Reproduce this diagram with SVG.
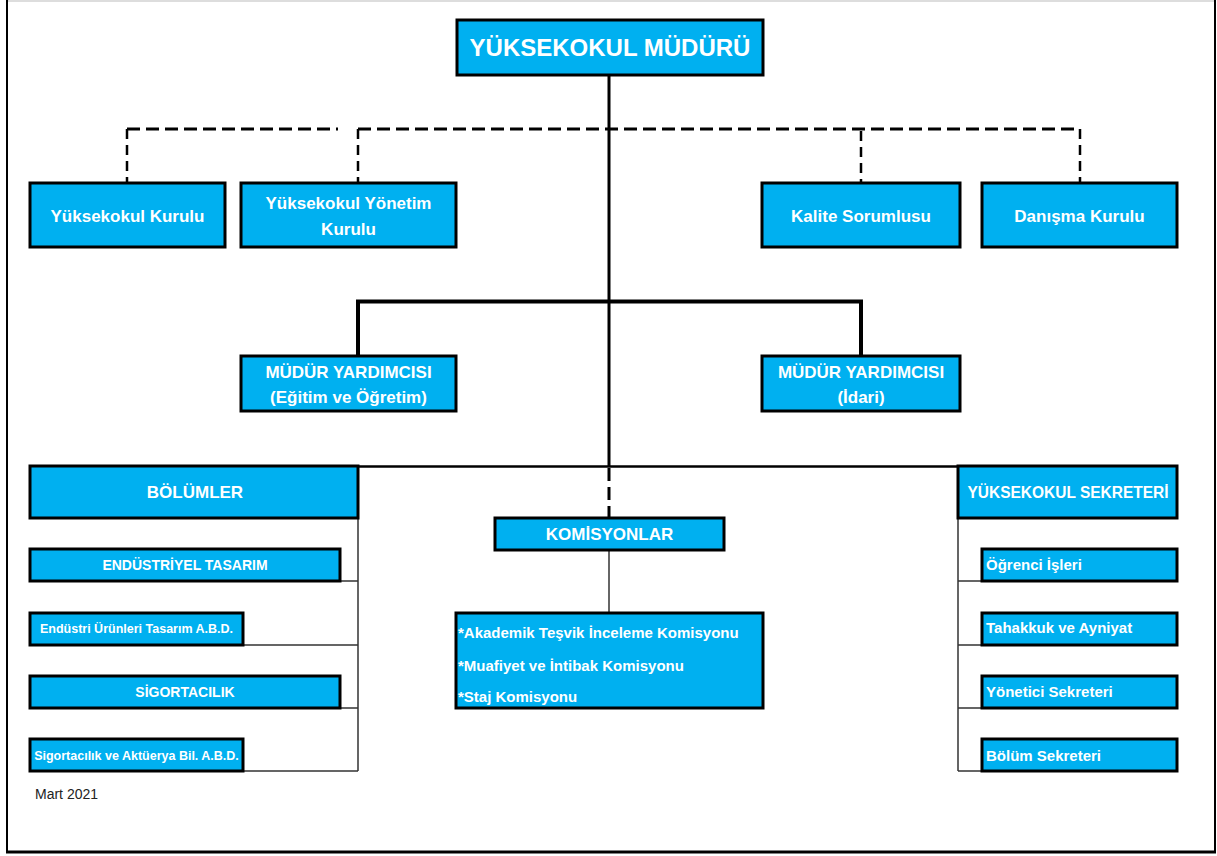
<svg xmlns="http://www.w3.org/2000/svg" width="1217" height="856" viewBox="0 0 1217 856">
<style>
.box{fill:#00B0F0;stroke:#000;stroke-width:3}
.t{font-family:"Liberation Sans",Arial,sans-serif;font-weight:bold;fill:#fff;text-anchor:middle}
.tl{font-family:"Liberation Sans",Arial,sans-serif;font-weight:bold;fill:#fff;text-anchor:start}
.solid{stroke:#000;fill:none}
.thin{stroke:#333;stroke-width:1.5;fill:none}
.dash{stroke:#000;fill:none;stroke-width:3;stroke-dasharray:13 6}
.vdash{stroke:#000;fill:none;stroke-width:2.5;stroke-dasharray:10 6}
</style>
<rect x="0" y="0" width="1217" height="856" fill="#fff"/>
<g id="frame">
<line x1="7" y1="1" x2="1216" y2="1" stroke="#ddd" stroke-width="2"/>
<line x1="7" y1="0" x2="7" y2="853" stroke="#000" stroke-width="2"/>
<line x1="1215" y1="0" x2="1215" y2="853" stroke="#000" stroke-width="2"/>
<line x1="6" y1="852" x2="1216" y2="852" stroke="#000" stroke-width="3"/>
</g>
<g id="connectors">
<path class="dash" d="M127,129 H338 M358,129 H1080"/>
<path class="vdash" d="M127,129 V182 M358,129 V182 M861,131 V182 M1080,129 V182"/>
<path class="solid" stroke-width="3" d="M609,75 V467"/>
<path class="dash" d="M609,468 V518"/>
<path class="solid" stroke-width="4" d="M358,356 V301.5 H861 V356"/>
<path class="solid" stroke-width="2.5" d="M358,466.5 H958"/>
<path class="thin" d="M609,550 V613"/>
<path class="thin" d="M358,518 V771 M340,581 H358 M243,645 H358 M340,708 H358 M243,771 H358"/>
<path class="thin" d="M958,518 V771 M958,581 H982 M958,645 H982 M958,708 H982 M958,771 H982"/>
</g>
<g id="mudur"><rect class="box" x="457" y="20" width="306" height="55"/><text class="t" x="610" y="56" font-size="24">YÜKSEKOKUL MÜDÜRÜ</text></g>
<g id="yk-kurulu"><rect class="box" x="30" y="183" width="195" height="64"/><text class="t" x="127.5" y="222" font-size="17">Yüksekokul Kurulu</text></g>
<g id="yk-yonetim"><rect class="box" x="241" y="183" width="215" height="64"/><text class="t" x="348.5" y="209" font-size="17">Yüksekokul Yönetim</text><text class="t" x="348.5" y="235" font-size="17">Kurulu</text></g>
<g id="kalite"><rect class="box" x="762" y="183" width="198" height="64"/><text class="t" x="861" y="222" font-size="17">Kalite Sorumlusu</text></g>
<g id="danisma"><rect class="box" x="982" y="183" width="195" height="64"/><text class="t" x="1079.5" y="222" font-size="17">Danışma Kurulu</text></g>
<g id="my-egitim"><rect class="box" x="241" y="356" width="215" height="55"/><text class="t" x="348.5" y="378" font-size="17">MÜDÜR YARDIMCISI</text><text class="t" x="348.5" y="403" font-size="17">(Eğitim ve Öğretim)</text></g>
<g id="my-idari"><rect class="box" x="762" y="356" width="198" height="55"/><text class="t" x="861" y="378" font-size="17">MÜDÜR YARDIMCISI</text><text class="t" x="861" y="403" font-size="17">(İdari)</text></g>
<g id="bolumler"><rect class="box" x="30" y="466" width="328" height="52"/><text class="t" x="195" y="498" font-size="17">BÖLÜMLER</text></g>
<g id="sekreter"><rect class="box" x="958" y="466" width="219" height="52"/><text class="t" x="1068" y="498" font-size="16" textLength="201" lengthAdjust="spacingAndGlyphs">YÜKSEKOKUL SEKRETERİ</text></g>
<g id="komisyonlar"><rect class="box" x="495" y="518" width="229" height="32"/><text class="t" x="609.5" y="540" font-size="17">KOMİSYONLAR</text></g>
<g id="komisyon-list"><rect class="box" x="456" y="613" width="307" height="95"/>
<text class="tl" x="458" y="638" font-size="15">*Akademik Teşvik İnceleme Komisyonu</text>
<text class="tl" x="458" y="671" font-size="15">*Muafiyet ve İntibak Komisyonu</text>
<text class="tl" x="458" y="702" font-size="15">*Staj Komisyonu</text></g>
<g id="endustriyel"><rect class="box" x="30" y="549" width="310" height="32"/><text class="t" x="185" y="570" font-size="14">ENDÜSTRİYEL TASARIM</text></g>
<g id="eut-abd"><rect class="box" x="30" y="613" width="213" height="32"/><text class="t" x="136.5" y="633" font-size="12.5">Endüstri Ürünleri Tasarım A.B.D.</text></g>
<g id="sigortacilik"><rect class="box" x="30" y="676" width="310" height="32"/><text class="t" x="185" y="697" font-size="14">SİGORTACILIK</text></g>
<g id="sab-abd"><rect class="box" x="30" y="739" width="213" height="32"/><text class="t" x="136.5" y="760" font-size="12.5">Sigortacılık ve Aktüerya Bil. A.B.D.</text></g>
<g id="ogrenci"><rect class="box" x="982" y="549" width="195" height="32"/><text class="tl" x="986" y="570" font-size="15">Öğrenci İşleri</text></g>
<g id="tahakkuk"><rect class="box" x="982" y="613" width="195" height="32"/><text class="tl" x="986" y="633" font-size="15">Tahakkuk ve Ayniyat</text></g>
<g id="yonetici"><rect class="box" x="982" y="676" width="195" height="32"/><text class="tl" x="986" y="697" font-size="15">Yönetici Sekreteri</text></g>
<g id="bolum-sek"><rect class="box" x="982" y="739" width="195" height="32"/><text class="tl" x="986" y="761" font-size="15">Bölüm Sekreteri</text></g>
<text x="35" y="799" font-family="Liberation Sans,Arial,sans-serif" font-size="14" fill="#222">Mart 2021</text>
</svg>
